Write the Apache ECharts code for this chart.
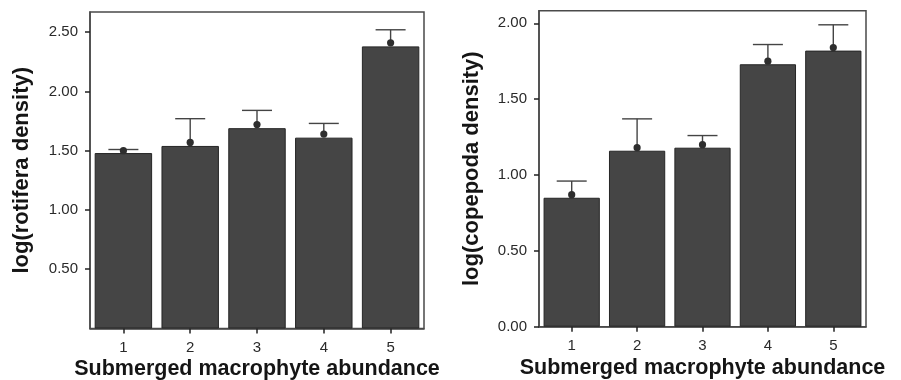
<!DOCTYPE html>
<html>
<head>
<meta charset="utf-8">
<script src="https://cdn.jsdelivr.net/npm/echarts@6/dist/echarts.min.js"></script>
<style>html,body{margin:0;padding:0;background:#fff}#c{width:901px;height:380px}</style>
</head>
<body>
<div id="c"></div>
<script>
const categories = ['1', '2', '3', '4', '5'];
const rotiferaBar = [1.48, 1.54, 1.69, 1.61, 2.38];
const rotiferaMean = [1.50, 1.57, 1.72, 1.64, 2.41];
const rotiferaUpper = [1.51, 1.77, 1.84, 1.73, 2.52];
const copepodaBar = [0.85, 1.16, 1.18, 1.73, 1.82];
const copepodaMean = [0.87, 1.18, 1.20, 1.75, 1.84];
const copepodaUpper = [0.96, 1.37, 1.26, 1.86, 1.99];
const rotiferaTicks = [0.5, 1.0, 1.5, 2.0, 2.5];
const copepodaTicks = [0.0, 0.5, 1.0, 1.5, 2.0];

const FONT = '"Liberation Sans", Arial, sans-serif';
const frameColor = '#4a4a4a';

function errRender(params, api) {
  const x = api.value(0);
  const p0 = api.coord([x, api.value(1)]);
  const p1 = api.coord([x, api.value(2)]);
  const half = 15;
  return {
    type: 'group',
    children: [
      { type: 'line', shape: { x1: p0[0], y1: p0[1], x2: p1[0], y2: p1[1] }, style: { stroke: '#444', lineWidth: 1.4 } },
      { type: 'line', shape: { x1: p1[0] - half, y1: p1[1], x2: p1[0] + half, y2: p1[1] }, style: { stroke: '#444', lineWidth: 1.4 } },
      { type: 'circle', shape: { cx: p0[0], cy: p0[1], r: 3.6 }, style: { fill: '#2e2e2e' } }
    ]
  };
}

function xAxis(gi) {
  return {
    type: 'category', gridIndex: gi, data: categories,
    name: 'Submerged macrophyte abundance', nameLocation: 'middle', nameGap: 30, nameMoveOverlap: false,
    nameTextStyle: { fontFamily: FONT, fontWeight: 'bold', fontSize: 21.5, color: '#151515', lineHeight: 22, verticalAlign: 'top' },
    axisLine: { show: true, lineStyle: { color: frameColor, width: 1.5 } },
    axisTick: { show: true, alignWithLabel: true, length: 5, lineStyle: { color: '#222', width: 1.5 } },
    axisLabel: { fontFamily: FONT, fontSize: 15, color: '#2a2a2a', margin: 12 },
    splitLine: { show: false }
  };
}

function yAxis(gi, name, max, ticks, gap) {
  return {
    type: 'value', gridIndex: gi, min: 0, max: max,
    name: name, nameLocation: 'middle', nameGap: gap, nameMoveOverlap: false,
    nameTextStyle: { fontFamily: FONT, fontWeight: 'bold', fontSize: 22, color: '#151515' },
    axisLine: { show: true, lineStyle: { color: frameColor, width: 1.5 } },
    axisTick: { show: true, length: 5, customValues: ticks, lineStyle: { color: '#222', width: 1.5 } },
    axisLabel: { fontFamily: FONT, fontSize: 15, color: '#2a2a2a', margin: 12, customValues: ticks,
      formatter: v => v.toFixed(2) },
    splitLine: { show: false }
  };
}

const chart = echarts.init(document.getElementById('c'), null, { renderer: 'canvas' });
chart.setOption({
  animation: false,
  grid: [
    { left: 90, top: 12, width: 334, height: 316.5, containLabel: false, outerBoundsMode: 'none',
      show: true, borderColor: frameColor, borderWidth: 1.5, backgroundColor: 'transparent' },
    { left: 539, top: 10.7, width: 327, height: 316, containLabel: false, outerBoundsMode: 'none',
      show: true, borderColor: frameColor, borderWidth: 1.5, backgroundColor: 'transparent' }
  ],
  xAxis: [xAxis(0), xAxis(1)],
  yAxis: [
    yAxis(0, 'log(rotifera density)', 2.67, rotiferaTicks, 57),
    yAxis(1, 'log(copepoda density)', 2.083, copepodaTicks, 56)
  ],
  series: [
    { type: 'bar', xAxisIndex: 0, yAxisIndex: 0, data: rotiferaBar, barCategoryGap: '14%',
      itemStyle: { color: '#454545', borderColor: '#262626', borderWidth: 1 } },
    { type: 'bar', xAxisIndex: 1, yAxisIndex: 1, data: copepodaBar, barCategoryGap: '14%',
      itemStyle: { color: '#454545', borderColor: '#262626', borderWidth: 1 } },
    { type: 'custom', xAxisIndex: 0, yAxisIndex: 0, renderItem: errRender, z: 5,
      data: categories.map((c, i) => [i, rotiferaMean[i], rotiferaUpper[i]]) },
    { type: 'custom', xAxisIndex: 1, yAxisIndex: 1, renderItem: errRender, z: 5,
      data: categories.map((c, i) => [i, copepodaMean[i], copepodaUpper[i]]) }
  ]
});
</script>
</body>
</html>
